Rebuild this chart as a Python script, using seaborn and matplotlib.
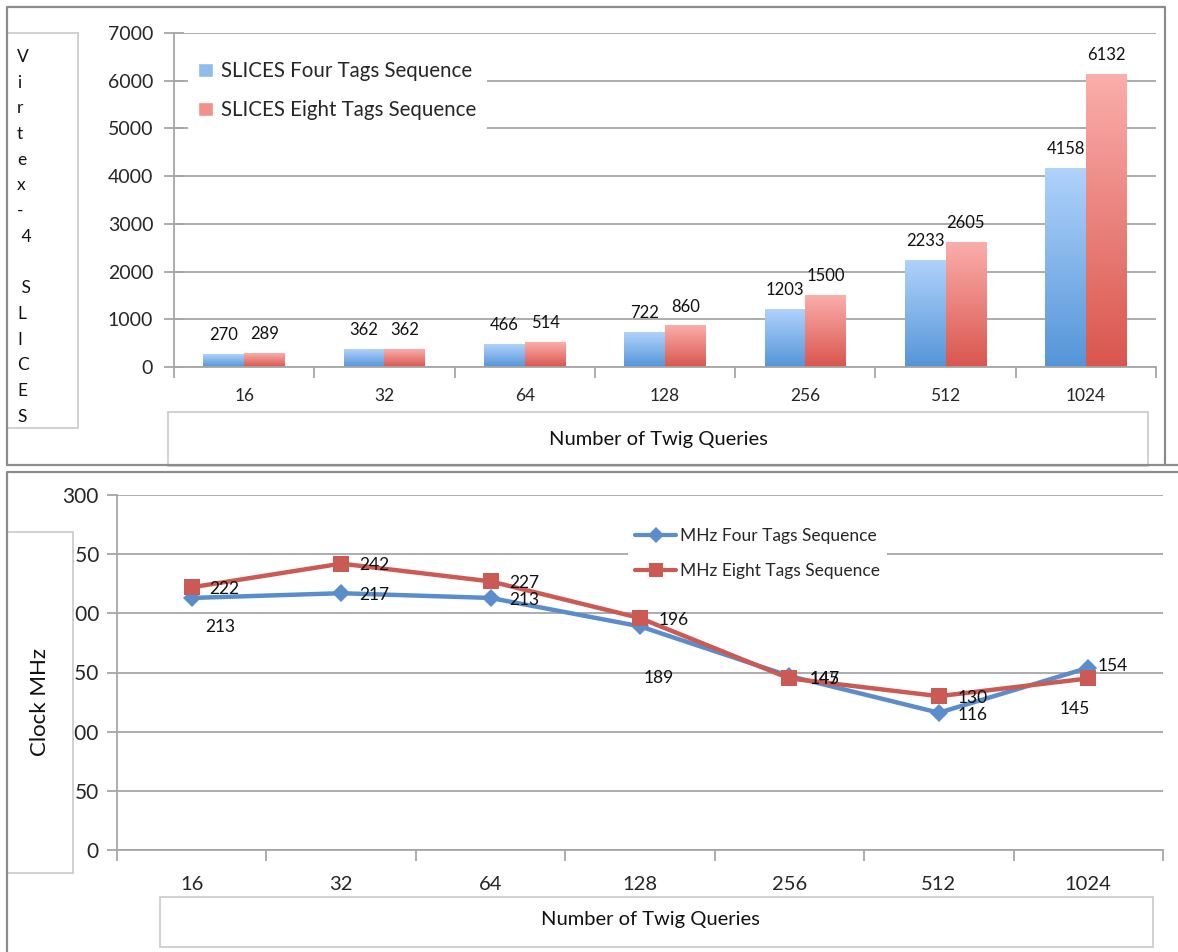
import numpy as np
import pandas as pd
import matplotlib
matplotlib.use("Agg")
import matplotlib.pyplot as plt
from matplotlib.colors import LinearSegmentedColormap, to_hex
from matplotlib.patches import Rectangle, Patch
from matplotlib.lines import Line2D
import seaborn as sns

# ---- data ----
queries = ["16", "32", "64", "128", "256", "512", "1024"]
slices_four = [270, 362, 466, 722, 1203, 2233, 4158]
slices_eight = [289, 362, 514, 860, 1500, 2605, 6132]
mhz_four = [213, 217, 213, 189, 147, 116, 154]
mhz_eight = [222, 242, 227, 196, 145, 130, 145]

slice_names = ["SLICES Four Tags Sequence", "SLICES Eight Tags Sequence"]
mhz_names = ["MHz Four Tags Sequence", "MHz Eight Tags Sequence"]

slices_df = pd.DataFrame({
    "queries": queries * 2,
    "slices": slices_four + slices_eight,
    "series": [slice_names[0]] * 7 + [slice_names[1]] * 7,
})
mhz_df = pd.DataFrame({
    "queries": queries * 2,
    "mhz": mhz_four + mhz_eight,
    "series": [mhz_names[0]] * 7 + [mhz_names[1]] * 7,
})

# ---- style ----
sns.set_theme(style="white")
plt.rcParams["font.family"] = ["Lato", "DejaVu Sans"]

W, H = 1178, 952
GRID = "#a6a6a6"
BLUE_BAR = "#8fbcef"
RED_BAR = "#f2908b"
BLUE_LINE = "#5a8dcc"
RED_LINE = "#cb5a55"


def fx(px):
    return px / W


def fy(py):
    return 1 - py / H


fig = plt.figure(figsize=(W / 100, H / 100), dpi=100)
fig.patch.set_facecolor("white")

# panel frames
def fig_line(xs, ys, color="#8c8c8c", lw=1.6, z=6):
    fig.add_artist(Line2D([fx(x) for x in xs], [fy(y) for y in ys],
                          color=color, lw=lw, zorder=z))


def fig_box(x0, y0, x1, y1, color="#c9c9c9", lw=1.2, z=5):
    fig.add_artist(Rectangle((fx(x0), fy(y1)), fx(x1) - fx(x0), fy(y0) - fy(y1),
                             transform=fig.transFigure, facecolor="white",
                             edgecolor=color, lw=lw, zorder=z))


fig_line([7, 7, 1165, 1165], [465, 7, 7, 465])
fig_line([7, 1178], [465, 465])
fig_line([7, 7, 1178], [952, 472, 472])

# ---- top: bar chart ----
ax1 = fig.add_axes([fx(174), fy(367), fx(1156) - fx(174), fy(33) - fy(367)])
sns.barplot(data=slices_df, x="queries", y="slices", hue="series",
            order=queries, hue_order=slice_names,
            palette=[BLUE_BAR, RED_BAR], width=0.58, gap=0,
            saturation=1, legend=False, ax=ax1)

cmaps = {
    to_hex(BLUE_BAR): LinearSegmentedColormap.from_list("b", ["#5495d8", "#b0d2fb"]),
    to_hex(RED_BAR): LinearSegmentedColormap.from_list("r", ["#d9564e", "#fbaeab"]),
}
grad = np.linspace(0, 1, 256).reshape(-1, 1)
bars = list(ax1.patches)
for p in bars:
    x0, w, h = p.get_x(), p.get_width(), p.get_height()
    cm = cmaps[to_hex(p.get_facecolor())]
    ax1.imshow(grad, extent=[x0, x0 + w, 0, h], origin="lower", cmap=cm,
               aspect="auto", zorder=2, interpolation="bicubic")
    p.set_visible(False)
    ax1.annotate(f"{int(round(h))}", (x0 + w / 2, h), xytext=(0, 14),
                 textcoords="offset points", ha="center", va="center",
                 fontsize=12, color="#111111", zorder=4)

ax1.set_xlim(-0.5, 6.5)
ax1.set_ylim(0, 7000)
ax1.set_yticks(np.arange(0, 7001, 1000))
ax1.yaxis.grid(True, color=GRID, lw=1.3)
ax1.set_axisbelow(True)
for s in ["top", "right"]:
    ax1.spines[s].set_visible(False)
for s in ["left", "bottom"]:
    ax1.spines[s].set_color(GRID)
    ax1.spines[s].set_linewidth(1.3)
ax1.tick_params(axis="y", direction="inout", length=14, width=1.3, color=GRID,
                labelsize=14, pad=8, left=True)
ax1.set_xticks(range(7))
ax1.set_xticklabels(queries)
ax1.set_xticks(np.arange(-0.5, 7, 1), minor=True)
ax1.tick_params(axis="x", which="major", length=0, labelsize=12.5, pad=15)
ax1.tick_params(axis="x", which="minor", direction="out", length=8, width=1.3,
                color=GRID, bottom=True)
ax1.set_xlabel("")
ax1.set_ylabel("")

leg1 = ax1.legend(handles=[Patch(facecolor=BLUE_BAR), Patch(facecolor=RED_BAR)],
                  labels=slice_names, loc="upper left",
                  bbox_to_anchor=(0.004, 0.978), fontsize=14.8,
                  handlelength=0.7, handleheight=0.7, handletextpad=0.4,
                  labelspacing=0.95, frameon=True, facecolor="white",
                  edgecolor="none", framealpha=1, borderpad=0.5)

# axis title boxes for the bar chart
fig_box(7, 33, 78, 428)
letters = ["V", "i", "r", "t", "e", "x", "-", " 4", "", " S", "L", "I", "C", "E", "S"]
for i, ch in enumerate(letters):
    fig.text(fx(17), fy(57 + 25.7 * i), ch, fontsize=12.5, ha="left",
             va="center", color="#111111", zorder=7)
fig_box(168, 412, 1148, 466)
fig.text(fx(658), fy(440), "Number of Twig Queries", fontsize=14.5,
         ha="center", va="center", color="#111111", zorder=7)

# ---- bottom: line chart ----
ax2 = fig.add_axes([fx(117), fy(850), fx(1163) - fx(117), fy(495) - fy(850)])
sns.lineplot(data=mhz_df, x="queries", y="mhz", hue="series",
             hue_order=mhz_names, style="series", style_order=mhz_names,
             markers=["D", "s"], dashes=False, palette=[BLUE_LINE, RED_LINE],
             lw=3.2, markersize=10, markeredgewidth=0, legend=False,
             sort=False, ax=ax2)
for ln, ms in zip(ax2.lines, [9, 11]):
    ln.set_markersize(ms)
    ln.set_solid_joinstyle("round")

four_offsets = [(29, 29), (33, 2), (34, 2), (19, 52), (35, 3), (34, 2), (24, -2)]
eight_offsets = [(33, 2), (33, 1), (34, 2), (34, 2), (35, 1), (34, 2), (-14, 31)]
for vals, offs in [(mhz_four, four_offsets), (mhz_eight, eight_offsets)]:
    for i, (v, (dx, dy)) in enumerate(zip(vals, offs)):
        ax2.annotate(str(v), (i, v), xytext=(dx * 0.72, -dy * 0.72),
                     textcoords="offset points", ha="center", va="center",
                     fontsize=12.5, color="#111111", zorder=5)

ax2.set_xlim(-0.5, 6.5)
ax2.set_ylim(0, 300)
ax2.set_yticks(np.arange(0, 301, 50))
ax2.yaxis.grid(True, color=GRID, lw=1.3)
ax2.set_axisbelow(True)
for s in ["top", "right"]:
    ax2.spines[s].set_visible(False)
for s in ["left", "bottom"]:
    ax2.spines[s].set_color(GRID)
    ax2.spines[s].set_linewidth(1.3)
ax2.tick_params(axis="y", direction="out", length=7, width=1.3, color=GRID,
                labelsize=15, pad=6, left=True)
ax2.set_xticks(range(7))
ax2.set_xticklabels(queries)
ax2.set_xticks(np.arange(-0.5, 7, 1), minor=True)
ax2.tick_params(axis="x", which="major", length=0, labelsize=14.5, pad=19)
ax2.tick_params(axis="x", which="minor", direction="out", length=8, width=1.3,
                color=GRID, bottom=True)
ax2.set_xlabel("")
ax2.set_ylabel("")

line_handles = [
    Line2D([], [], color=BLUE_LINE, lw=3, marker="D", markersize=8, markeredgewidth=0),
    Line2D([], [], color=RED_LINE, lw=3, marker="s", markersize=10, markeredgewidth=0),
]
ax2.legend(handles=line_handles, labels=mhz_names, loc="upper left",
           bbox_to_anchor=(0.48, 0.95), fontsize=12.5, handlelength=2.4,
           handletextpad=0.2, labelspacing=1.05, frameon=True,
           facecolor="white", edgecolor="none", framealpha=1, borderpad=0.4)

# axis title boxes for the line chart
fig_box(7, 532, 73, 873)
fig.text(fx(40), fy(702), "Clock MHz", fontsize=16, rotation=90,
         ha="center", va="center", color="#111111", zorder=7)
fig_box(160, 897, 1153, 947)
fig.text(fx(650), fy(920), "Number of Twig Queries", fontsize=14.5,
         ha="center", va="center", color="#111111", zorder=7)

fig.savefig("out.png", dpi=100, facecolor="white")
